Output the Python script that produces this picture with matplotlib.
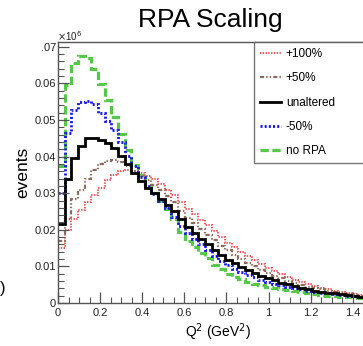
import numpy as np
import matplotlib.pyplot as plt
from matplotlib.lines import Line2D
from matplotlib.ticker import MultipleLocator

plt.rcParams['font.family'] = ['Liberation Sans', 'DejaVu Sans']
plt.rcParams['lines.scale_dashes'] = False

# Q^2 histogram, bin width
bin_width = 0.0317
n_bins = 46
edges = np.arange(n_bins + 1) * bin_width

plus100 = [0.0150, 0.0200, 0.0230, 0.0255, 0.0275, 0.0295, 0.0315, 0.0335, 0.0350, 0.0360,
           0.0362, 0.0360, 0.0355, 0.0348, 0.0338, 0.0325, 0.0310, 0.0295, 0.0275, 0.0258,
           0.0242, 0.0228, 0.0212, 0.0197, 0.0180, 0.0165, 0.0152, 0.0140, 0.0128, 0.0117,
           0.0106, 0.0096, 0.0087, 0.0078, 0.0070, 0.0063, 0.0057, 0.0051, 0.0046, 0.0042,
           0.0038, 0.0034, 0.0030, 0.0027, 0.0024, 0.0021]
plus50 = [0.0170, 0.0230, 0.0285, 0.0310, 0.0340, 0.0362, 0.0380, 0.0388, 0.0390, 0.0385,
          0.0375, 0.0360, 0.0348, 0.0335, 0.0322, 0.0308, 0.0292, 0.0275, 0.0250, 0.0233,
          0.0218, 0.0202, 0.0187, 0.0172, 0.0157, 0.0144, 0.0132, 0.0120, 0.0110, 0.0100,
          0.0091, 0.0083, 0.0075, 0.0068, 0.0061, 0.0055, 0.0050, 0.0045, 0.0041, 0.0037,
          0.0033, 0.0030, 0.0027, 0.0024, 0.0022, 0.0020]
unaltered = [0.0215, 0.0340, 0.0395, 0.0430, 0.0450, 0.0450, 0.0445, 0.0438, 0.0423, 0.0402,
             0.0380, 0.0355, 0.0332, 0.0315, 0.0300, 0.0285, 0.0268, 0.0252, 0.0230, 0.0208,
             0.0192, 0.0175, 0.0160, 0.0145, 0.0132, 0.0118, 0.0108, 0.0098, 0.0090, 0.0083,
             0.0075, 0.0068, 0.0062, 0.0056, 0.0051, 0.0046, 0.0042, 0.0038, 0.0034, 0.0031,
             0.0028, 0.0026, 0.0024, 0.0021, 0.0019, 0.0017]
minus50 = [0.0300, 0.0465, 0.0526, 0.0548, 0.0553, 0.0544, 0.0520, 0.0498, 0.0472, 0.0440,
           0.0402, 0.0375, 0.0345, 0.0320, 0.0298, 0.0280, 0.0260, 0.0235, 0.0210, 0.0190,
           0.0175, 0.0160, 0.0144, 0.0128, 0.0115, 0.0103, 0.0093, 0.0085, 0.0077, 0.0070,
           0.0063, 0.0058, 0.0053, 0.0048, 0.0044, 0.0041, 0.0038, 0.0034, 0.0031, 0.0028,
           0.0026, 0.0024, 0.0022, 0.0020, 0.0018, 0.0016]
no_rpa = [0.0375, 0.0595, 0.0655, 0.0675, 0.0668, 0.0640, 0.0597, 0.0555, 0.0507, 0.0462,
          0.0417, 0.0378, 0.0350, 0.0322, 0.0300, 0.0280, 0.0258, 0.0230, 0.0195, 0.0170,
          0.0152, 0.0136, 0.0122, 0.0105, 0.0092, 0.0080, 0.0072, 0.0065, 0.0058, 0.0053,
          0.0049, 0.0045, 0.0041, 0.0038, 0.0035, 0.0032, 0.0030, 0.0027, 0.0025, 0.0022,
          0.0020, 0.0018, 0.0017, 0.0016, 0.0015, 0.0014]

labels = ['+100%', '+50%', 'unaltered', '-50%', 'no RPA']
series = [plus100, plus50, unaltered, minus50, no_rpa]
colors = ['#e8484a', '#8c6a5c', 'black', '#1515e8', '#55c84a']
styles = [(0, (1.0, 1.0)), (0, (3.0, 1.5, 1.0, 1.5, 1.0, 1.5)), '-', (0, (1.5, 1.5)), (0, (6.0, 2.5))]
widths = [1.3, 1.6, 2.0, 2.0, 2.3]

fig = plt.figure(figsize=(3.63, 3.46), dpi=100)
ax = fig.add_axes([58 / 363, 1 - 303 / 346, 1 - 58 / 363, (303 - 42) / 346])

# draw back to front: green first, black on top
for i in [4, 0, 1, 3, 2]:
    ax.stairs(series[i], edges, color=colors[i], linestyle=styles[i], linewidth=widths[i], baseline=None)

ax.set_xlim(0, (363 - 58) / 210.6)
ax.set_ylim(0, 0.0713)

ax.xaxis.set_major_locator(MultipleLocator(0.2))
ax.xaxis.set_minor_locator(MultipleLocator(0.05))
ax.yaxis.set_major_locator(MultipleLocator(0.01))
ax.yaxis.set_minor_locator(MultipleLocator(0.002))
ax.set_xticks(np.arange(0, 1.41, 0.2))
ax.set_xticklabels(['0', '0.2', '0.4', '0.6', '0.8', '1', '1.2', '1.4'])
ax.set_yticks(np.arange(0, 0.071, 0.01))
ax.set_yticklabels(['0', '0.01', '0.02', '0.03', '0.04', '0.05', '0.06', '.07'])

grey = '#555555'
ax.tick_params(which='both', direction='in', colors=grey, labelcolor='#222222', labelsize=8)
ax.tick_params(which='major', length=8, width=0.9)
ax.tick_params(which='minor', length=4, width=0.8)
ax.tick_params(axis='x', pad=3.5)
ax.tick_params(axis='y', pad=1.5)
for s in ['left', 'bottom', 'top']:
    ax.spines[s].set_color(grey)
    ax.spines[s].set_linewidth(1.0)
ax.spines['right'].set_visible(False)

# legend box runs off the right edge like in the cropped original
handles = [Line2D([0], [0], color=c, linestyle=ls, linewidth=w) for c, ls, w in zip(colors, styles, widths)]
leg = ax.legend(handles, labels, loc='upper left', bbox_to_anchor=(254 / 363, 1 - 42 / 346, 0.45, 0.0),
                bbox_transform=fig.transFigure, frameon=True, fancybox=False, fontsize=8.5,
                handlelength=1.8, handletextpad=0.4, labelspacing=1.05, borderpad=0.5,
                borderaxespad=0.0, mode='expand')
leg.get_frame().set_edgecolor(grey)
leg.get_frame().set_linewidth(1.0)

fig.text(0.578, 1 - 27 / 346, 'RPA Scaling', fontsize=19, ha='center', va='baseline')
fig.text(57 / 363, 1 - 41 / 346, r'$\times$10$^6$', fontsize=7, ha='left', va='baseline', color='#222222')
fig.text(0.063, 0.503, 'events', fontsize=12.5, rotation=90, ha='center', va='center')
fig.text(0.600, 1 - 337 / 346, r'Q$^2$ (GeV$^2$)', fontsize=10, ha='center', va='baseline')
fig.text(0.0, 1 - 293 / 346, ')', fontsize=12, ha='left', va='baseline')

fig.savefig('out.png', dpi=100)
